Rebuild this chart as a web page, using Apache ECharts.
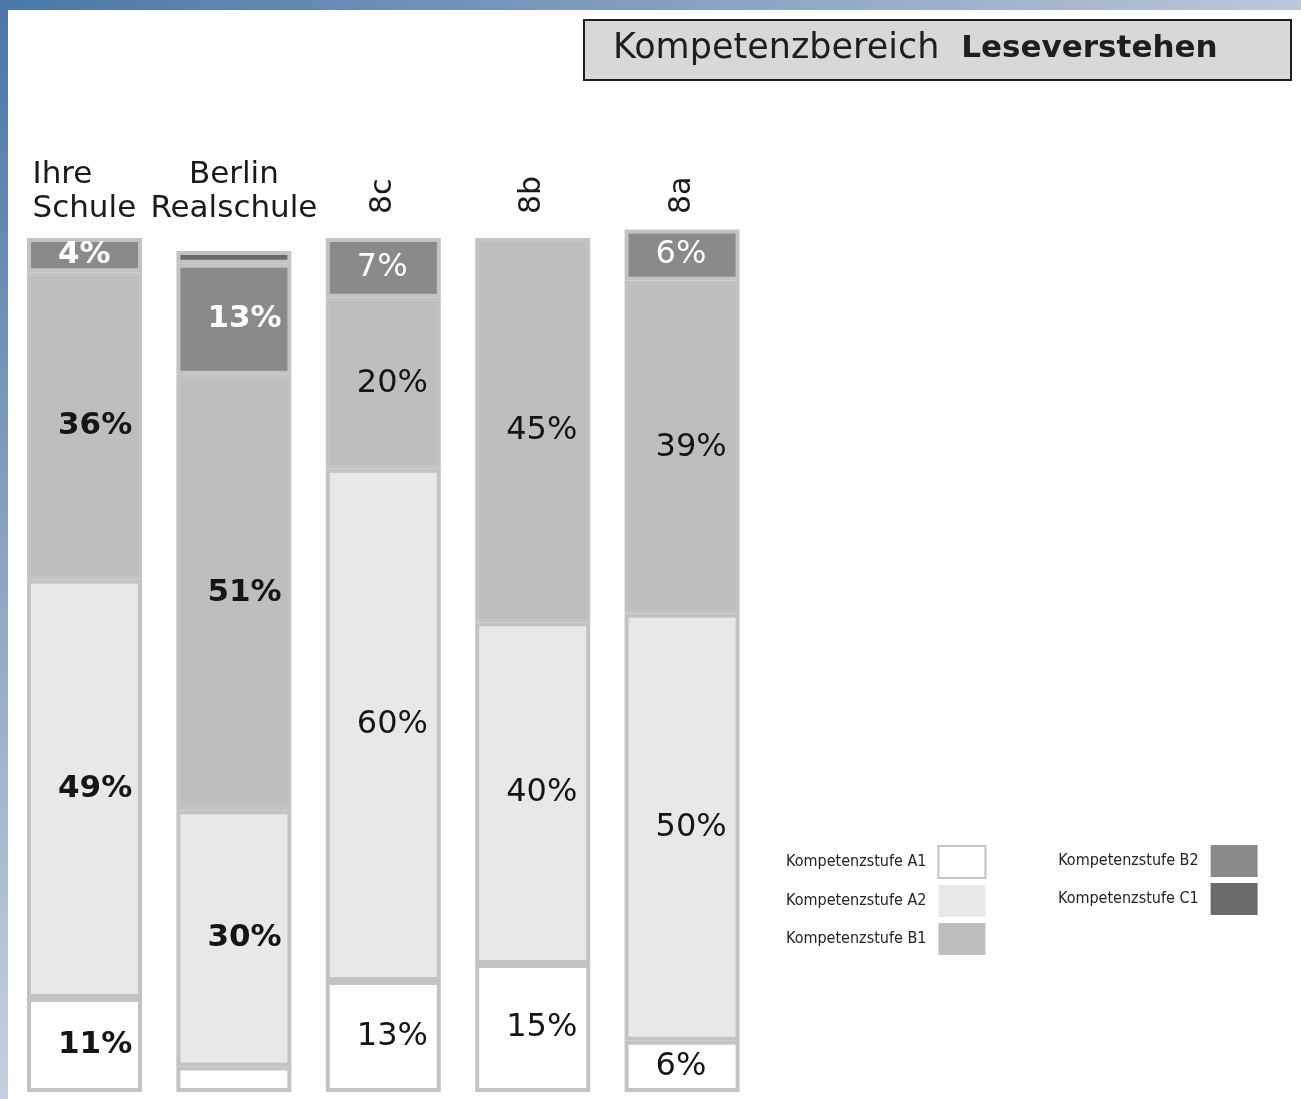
<!DOCTYPE html>
<html lang="de">
<head>
<meta charset="utf-8">
<title>Kompetenzbereich Leseverstehen</title>
<script src="https://cdn.jsdelivr.net/npm/echarts@6.0.0/dist/echarts.min.js"></script>
<style>
  html, body { margin: 0; padding: 0; background: #fff; }
  #main { width: 1301px; height: 1099px; }
</style>
</head>
<body>
<div id="main"></div>
<script>
// Gruppen (Spalten) und Kompetenzstufen
const categories = ['Ihre Schule', 'Berlin Realschule', '8c', '8b', '8a']
const levels = ['Kompetenzstufe A1', 'Kompetenzstufe A2', 'Kompetenzstufe B1', 'Kompetenzstufe B2', 'Kompetenzstufe C1']

// Anteile in Prozent, von unten nach oben gestapelt
const valuesA1 = [11, 3, 13, 15, 6]
const valuesA2 = [49, 30, 60, 40, 50]
const valuesB1 = [36, 51, 20, 45, 39]
const valuesB2 = [4, 13, 7, null, 6]
const valuesC1 = [null, 1.5, null, null, null]

const colors = ['#ffffff', '#e8e8e8', '#bebebe', '#8a8a8a', '#6b6b6b']
const font = '"DejaVu Sans", Verdana, sans-serif'
const legendFont = '"Liberation Sans Narrow", "DejaVu Sans Condensed", "Arial Narrow", sans-serif'

let chart = echarts.init(document.getElementById('main'), null, { renderer: 'canvas' })

let seriesValues = [valuesA1, valuesA2, valuesB1, valuesB2, valuesC1]

let series = levels.map((name, k) => ({
  name,
  type: 'bar',
  stack: 'total',
  barWidth: 115,
  xAxisIndex: 0,
  itemStyle: { color: colors[k], borderColor: '#c3c3c3', borderWidth: 4 },
  label: {
    show: true,
    position: 'insideLeft',
    distance: 31,
    fontFamily: font,
    fontSize: 32,
    color: k === 3 ? '#ffffff' : '#151515',
    formatter: (p) => p.value + '%',
  },
  data: seriesValues[k].map((v, i) => ({
    value: v,
    label: {
      // die schmalen Streifen bei Berlin bleiben ohne Beschriftung
      show: v !== null && v >= 4,
      fontWeight: i < 2 ? 'bold' : 'normal',
      fontSize: i < 2 ? 31 : 32,
    },
  })),
}))

let legendBase = {
  orient: 'vertical',
  align: 'right',
  top: 845,
  padding: 0,
  itemWidth: 47,
  itemHeight: 32,
  itemGap: 6,
  icon: 'rect',
  selectedMode: false,
  itemStyle: { borderWidth: 0 },
  textStyle: { fontFamily: legendFont, fontSize: 16, color: '#222', padding: [0, 7, 0, 0] },
}

let option = {
  backgroundColor: '#ffffff',
  animation: false,
  title: {
    text: '{a|Kompetenzbereich}{b|Leseverstehen}',
    left: 613,
    top: 29,
    padding: 0,
    textStyle: {
      rich: {
        a: { fontFamily: font, fontSize: 35, fontWeight: 'normal', color: '#1e1e1e', lineHeight: 40 },
        b: { fontFamily: font, fontSize: 31, fontWeight: 'bold', color: '#1e1e1e', lineHeight: 40, padding: [0, 0, 0, 22] },
      },
    },
  },
  legend: [
    Object.assign({}, legendBase, {
      left: 786,
      data: [
        { name: levels[0], itemStyle: { borderColor: '#c3c3c3', borderWidth: 2 } },
        levels[1],
        levels[2],
      ],
    }),
    Object.assign({}, legendBase, { left: 1058, data: [levels[3], levels[4]] }),
  ],
  grid: { left: 9.8, width: 747, top: 221, bottom: 7 },
  xAxis: [
    {
      // waagerechte Überschriften
      type: 'category',
      data: categories,
      position: 'top',
      axisLine: { show: false },
      axisTick: { show: false },
      axisLabel: {
        interval: 0,
        margin: -5,
        color: '#1a1a1a',
        fontFamily: font,
        fontSize: 31,
        lineHeight: 34,
        formatter: (v, i) => {
          if (i === 0) return v.split(' ').map((w) => `{l|${w}}`).join('\n')
          if (i === 1) return v.replace(' ', '\n')
          return ''
        },
        rich: {
          l: { width: 112, align: 'left', padding: [0, 0, 0, 8], color: '#1a1a1a', fontFamily: font, fontSize: 31, lineHeight: 34 },
        },
      },
    },
    {
      // gedrehte Klassenbezeichnungen
      type: 'category',
      data: categories,
      position: 'top',
      axisLine: { show: false },
      axisTick: { show: false },
      axisLabel: {
        interval: 0,
        rotate: -90,
        margin: 7,
        padding: [0, 0, 12, 0],
        color: '#1a1a1a',
        fontFamily: font,
        fontSize: 30,
        formatter: (v, i) => (i >= 2 ? v : ''),
      },
    },
  ],
  yAxis: { type: 'value', min: 0, max: 102, show: false },
  graphic: [
    {
      // Rahmen der Überschrift
      type: 'rect',
      left: 583,
      top: 19,
      z: -1,
      shape: { width: 707, height: 60 },
      style: { fill: '#d8d8d8', stroke: '#1e1e1e', lineWidth: 2 },
    },
    {
      type: 'rect',
      left: 0,
      top: 0,
      z: 100,
      shape: { width: 1301, height: 10 },
      style: {
        fill: new echarts.graphic.LinearGradient(0, 0, 1, 0, [
          { offset: 0, color: '#4a77a6' },
          { offset: 1, color: '#bcc7d8' },
        ]),
      },
    },
    {
      type: 'rect',
      left: 0,
      top: 0,
      z: 100,
      shape: { width: 8, height: 1099 },
      style: {
        fill: new echarts.graphic.LinearGradient(0, 0, 0, 1, [
          { offset: 0, color: '#4a77a6' },
          { offset: 1, color: '#c7d0dd' },
        ]),
      },
    },
  ],
  series,
}

chart.setOption(option)
</script>
</body>
</html>
